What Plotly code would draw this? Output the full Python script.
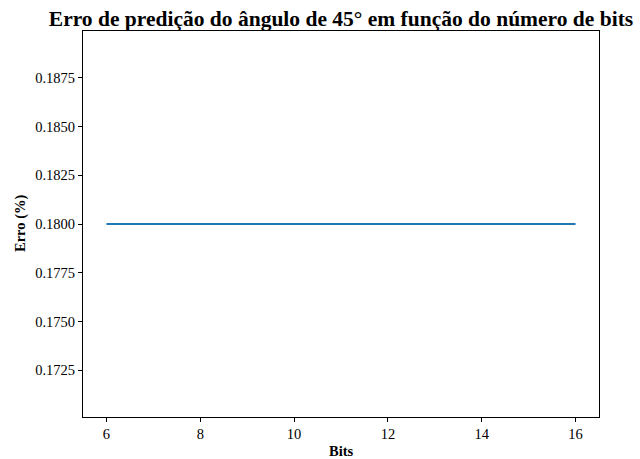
import plotly.graph_objects as go

# Prediction error of the 45° angle per bit count
bits = [6, 7, 8, 9, 10, 11, 12, 13, 14, 15, 16]
erro = [0.18, 0.18, 0.18, 0.18, 0.18, 0.18, 0.18, 0.18, 0.18, 0.18, 0.18]

x_ticks = [6, 8, 10, 12, 14, 16]
y_ticks = [0.1725, 0.1750, 0.1775, 0.1800, 0.1825, 0.1850, 0.1875]
y_labels = ["%.4f" % v for v in y_ticks]

title_text = "Erro de predição do ângulo de 45° em função do número de bits"
x_title = "Bits"
y_title = "Erro (%)"

serif = "Liberation Serif, Times New Roman, serif"

fig = go.Figure()
fig.add_trace(go.Scatter(
    x=bits, y=erro, mode="lines",
    line=dict(color="#1f77b4", width=2),
    showlegend=False,
))

fig.update_layout(
    width=640, height=459,
    margin=dict(l=83, r=41, t=31, b=42, autoexpand=False),
    paper_bgcolor="white", plot_bgcolor="white",
    font=dict(family=serif, size=14.5, color="black"),
    title=dict(
        text="<b>%s</b>" % title_text,
        xref="paper", x=0.5, xanchor="center",
        yref="paper", y=1, yanchor="bottom",
        pad=dict(b=5),
        font=dict(family=serif, size=21.5, color="black"),
    ),
)

axis_common = dict(
    showgrid=False, zeroline=False, automargin=False,
    showline=True, linecolor="black", linewidth=1, mirror=True,
    ticks="outside", ticklen=4, tickwidth=1, tickcolor="black",
    tickfont=dict(family=serif, size=14.5, color="black"),
)

fig.update_xaxes(range=[5.5, 16.5], tickvals=x_ticks, **axis_common)
fig.update_yaxes(range=[0.1701, 0.1899], tickvals=y_ticks, ticktext=y_labels,
                 **axis_common)

# axis titles
fig.add_annotation(
    text="<b>%s</b>" % x_title, xref="paper", yref="paper",
    x=0.5, y=0, yanchor="middle", yshift=-34, showarrow=False,
    font=dict(family=serif, size=14.5, color="black"),
)
fig.add_annotation(
    text="<b>%s</b>" % y_title, xref="paper", yref="paper",
    x=0, y=0.5, xanchor="center", xshift=-63, textangle=-90, showarrow=False,
    font=dict(family=serif, size=14.5, color="black"),
)

fig.write_html("out.html")
